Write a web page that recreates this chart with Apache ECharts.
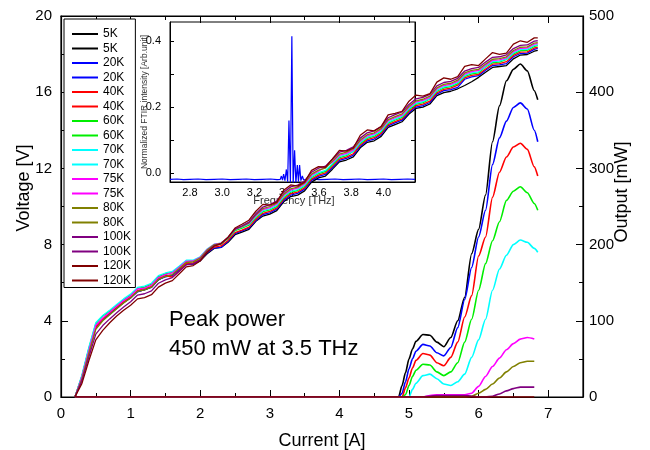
<!DOCTYPE html>
<html><head><meta charset="utf-8">
<script src="https://cdn.jsdelivr.net/npm/echarts@6/dist/echarts.min.js"></script>
<style>html,body{margin:0;padding:0;background:#fff}#c{width:650px;height:450px}</style>
</head><body><div id="c"></div>
<script>
// ---------- data ----------
const temps = ['5K','20K','40K','60K','70K','75K','80K','100K','120K'];
const colors = ['#000000','#0000ff','#ff0000','#00ee00','#00ffff','#ff00ff','#808000','#800080','#800000'];

const currentV = [0.2,0.3,0.4,0.5,0.6,0.7,0.8,0.9,1.0,1.1,1.2,1.3,1.4,1.5,1.6,1.7,1.8,1.9,2.0,2.1,2.2,2.3,2.4,2.5,2.6,2.7,2.8,2.9,3.0,3.1,3.2,3.3,3.4,3.5,3.6,3.7,3.8,3.9,4.0,4.1,4.2,4.3,4.4,4.5,4.6,4.7,4.8,4.9,5.0,5.1,5.2,5.3,5.4,5.5,5.6,5.7,5.8,5.9,6.0,6.1,6.2,6.3,6.4,6.5,6.6,6.7,6.8,6.85];

const V_5K = [0,1.05,2.5,3.75,4.1,4.4,4.68,4.98,5.22,5.55,5.62,5.78,6.15,6.36,6.40,6.70,6.98,6.98,7.15,7.52,7.80,7.85,8.12,8.52,8.66,8.80,9.22,9.50,9.60,9.78,10.25,10.52,10.60,10.82,11.28,11.50,11.60,11.96,12.34,12.44,12.60,13.08,13.37,13.45,13.68,14.15,14.30,14.45,14.85,15.15,15.22,15.38,15.82,15.98,16.05,16.18,16.35,16.55,16.78,17.05,17.30,17.35,17.40,17.75,17.95,17.98,18.15,18.20];
const V_20K = [0,0.95,2.35,3.65,4.05,4.35,4.65,4.95,5.2,5.52,5.63,5.75,6.17,6.31,6.39,6.68,6.97,6.99,7.16,7.57,7.82,7.85,8.17,8.58,8.72,8.87,9.27,9.58,9.67,9.86,10.32,10.60,10.69,10.91,11.37,11.58,11.69,12.05,12.42,12.52,12.70,13.16,13.44,13.54,13.77,14.23,14.39,14.53,14.93,15.22,15.30,15.46,15.90,16.08,16.14,16.25,16.68,16.81,16.87,17.15,17.40,17.43,17.50,17.86,18.03,18.05,18.25,18.30];
const V_40K = [0,0.9,2.3,3.65,4.1,4.42,4.72,5.0,5.27,5.58,5.7,5.8,6.24,6.36,6.30,6.62,7.02,7.04,7.21,7.61,7.87,7.93,8.22,8.63,8.76,8.92,9.33,9.64,9.74,9.93,10.39,10.67,10.76,10.98,11.44,11.65,11.76,12.12,12.49,12.59,12.77,13.23,13.51,13.61,13.84,14.30,14.46,14.60,15.00,15.29,15.37,15.53,15.97,16.15,16.21,16.37,16.75,16.88,16.94,17.22,17.47,17.50,17.60,17.93,18.10,18.12,18.32,18.35];
const V_60K = [0,1.1,2.55,3.85,4.25,4.52,4.8,5.1,5.35,5.7,5.77,5.92,6.32,6.46,6.54,6.83,7.12,7.14,7.31,7.72,7.97,8.03,8.32,8.73,8.86,9.02,9.42,9.73,9.82,10.01,10.47,10.75,10.84,11.06,11.52,11.73,11.84,12.2,12.57,12.67,12.90,13.31,13.59,13.69,13.92,14.38,14.54,14.68,15.08,15.37,15.45,15.65,16.05,16.23,16.29,16.45,16.83,16.96,17.02,17.33,17.55,17.58,17.72,18.01,18.18,18.20,18.40,18.45];
const V_70K = [0,1.15,2.6,3.9,4.28,4.55,4.85,5.15,5.4,5.75,5.82,5.97,6.37,6.51,6.59,6.88,7.18,7.19,7.36,7.77,8.02,8.08,8.37,8.78,8.92,9.07,9.47,9.78,9.87,10.06,10.52,10.80,10.89,11.11,11.57,11.78,11.89,12.25,12.62,12.72,12.90,13.36,13.64,13.74,13.97,14.43,14.59,14.73,15.13,15.42,15.50,15.66,16.10,16.28,16.34,16.50,16.88,17.01,17.07,17.35,17.60,17.63,17.73,18.06,18.23,18.25,18.45,18.50];
const V_75K = [0,1.05,2.45,3.75,4.15,4.45,4.76,5.06,5.3,5.67,5.72,5.87,6.27,6.42,6.51,6.81,7.12,7.14,7.33,7.74,8.01,8.08,8.37,8.80,8.94,9.11,9.52,9.84,9.94,10.13,10.59,10.87,10.96,11.18,11.64,11.85,12.10,12.32,12.69,12.79,12.97,13.43,13.71,13.81,14.04,14.50,14.66,14.80,15.20,15.49,15.57,15.73,16.17,16.35,16.41,16.57,16.95,17.08,17.14,17.42,17.67,17.70,17.80,18.13,18.30,18.32,18.52,18.55];
const V_80K = [0,0.95,2.3,3.55,4.0,4.32,4.63,4.94,5.2,5.55,5.62,5.77,6.17,6.33,6.43,6.74,7.06,7.09,7.29,7.71,7.99,8.07,8.37,8.81,8.96,9.14,9.56,9.89,10.00,10.19,10.65,10.93,11.02,11.24,11.70,11.91,12.02,12.38,12.75,12.85,13.03,13.49,13.77,13.87,14.10,14.56,14.72,14.86,15.26,15.55,15.63,15.79,16.23,16.41,16.47,16.63,17.01,17.14,17.20,17.48,17.73,17.76,17.86,18.19,18.36,18.38,18.58,18.60];
const V_100K = [0,0.85,2.1,3.3,3.75,4.1,4.42,4.72,5.0,5.35,5.42,5.57,5.97,6.15,6.27,6.60,6.93,6.99,7.20,7.64,7.94,8.04,8.36,8.81,8.99,9.18,9.62,9.97,10.10,10.29,10.75,11.03,11.12,11.34,11.80,12.01,12.12,12.48,12.85,12.95,13.13,13.59,13.87,13.97,14.20,14.66,14.82,14.96,15.36,15.65,15.73,15.89,16.33,16.51,16.57,16.73,17.11,17.24,17.30,17.58,17.83,17.86,17.96,18.29,18.46,18.48,18.68,18.70];
const V_120K = [0,0.7,1.9,3.0,3.5,3.9,4.25,4.55,4.82,5.15,5.22,5.37,5.77,5.98,6.11,6.47,6.83,6.90,7.14,7.60,7.92,8.05,8.39,8.87,9.07,9.28,9.75,10.11,10.07,10.23,10.85,11.13,11.07,11.28,11.90,12.09,12.06,12.50,12.95,12.91,13.07,13.74,14.02,13.97,14.19,14.81,14.89,15.00,15.53,15.85,15.79,15.92,16.53,16.75,16.68,16.82,17.36,17.45,17.40,17.75,18.08,17.99,18.05,18.52,18.70,18.62,18.85,18.85];

const currentP = [0.2,4.8,4.85,4.9,4.95,5.0,5.05,5.1,5.2,5.3,5.4,5.5,5.6,5.7,5.8,5.9,6.0,6.1,6.2,6.3,6.4,6.5,6.6,6.7,6.8,6.85];
const P_5K  = [0,0,0,15,32,50,63,73,82,81,72,66,78,100,131,188,220,265,335,382,415,430,437,428,402,390];
const P_20K = [0,0,0,5,20,37,50,60,69,67,58,54,65,91,128,170,210,245,305,340,362,380,386,378,350,335];
const P_40K = [0,0,0,0,12,25,38,48,57,55,45,41,52,72,105,133,185,210,262,295,315,328,333,325,302,290];
const P_60K = [0,0,0,0,3,15,27,35,43,42,33,28,33,45,72,102,140,175,205,230,258,270,276,268,254,245];
const P_70K = [0,0,0,0,0,0,10,18,28,30,24,17,15,20,30,52,75,102,140,168,186,200,206,203,195,190];
const P_75K = [0,0,0,0,0,0,0,0,0,2,3,3,3,3,3,5,14,27,40,51,62,70,76,78,76,null];
const P_80K = [0,0,0,0,0,0,0,0,0,0,0,0,0,0,0,1,5,10,17,25,33,40,45,47,47,null];
const P_100K= [0,0,0,0,0,0,0,0,0,1,2,2,2,2,2,1,0,0,1,4,8,11,13,13,13,null];
const P_120K= [0,0,0,0,0,0,0,0,0,0,0,0,0,0,0,0,0,0,0,0,0,0,0,0,0,null];

const freq = [2.676,2.72,2.76,2.80,2.85,2.90,2.95,3.00,3.05,3.10,3.15,3.20,3.25,3.30,3.34,3.36,3.367,3.374,3.381,3.389,3.398,3.406,3.414,3.423,3.432,3.440,3.449,3.457,3.466,3.473,3.480,3.488,3.497,3.505,3.52,3.56,3.60,3.65,3.70,3.75,3.80,3.85,3.90,3.95,4.00,4.05,4.10,4.15,4.196];
const ftir = [-0.018,-0.017,-0.019,-0.018,-0.017,-0.019,-0.018,-0.017,-0.019,-0.018,-0.017,-0.019,-0.018,-0.017,-0.019,-0.018,-0.008,-0.02,-0.002,-0.022,0.012,-0.025,0.16,-0.028,0.415,-0.03,0.07,-0.028,0.025,-0.025,0.025,-0.022,-0.008,-0.02,-0.018,-0.017,-0.019,-0.018,-0.017,-0.019,-0.018,-0.017,-0.019,-0.018,-0.017,-0.019,-0.018,-0.017,-0.018];

const insetFreqTicks = [2.8,3.0,3.2,3.4,3.6,3.8,4.0];
const insetIntLabels = [0,0.2,0.4];
const insetIntTicks = [0,0.1,0.2,0.3,0.4];

// ---------- chart ----------
const VS = [V_5K,V_20K,V_40K,V_60K,V_70K,V_75K,V_80K,V_100K,V_120K];
const PS = [P_5K,P_20K,P_40K,P_60K,P_70K,P_75K,P_80K,P_100K,P_120K];
const FF = "'Liberation Sans Narrow','Liberation Sans',Arial,sans-serif";
const FA = "'Liberation Sans',Arial,sans-serif";
const pair = (xs, ys) => xs.map((x,i)=> ys[i]==null ? null : [x, ys[i]]).filter(d=>d);

const series = [];
const legendData = [];
series.push({type:'line', name:'ftir', xAxisIndex:2, yAxisIndex:2, data: pair(freq, ftir),
  symbol:'none', lineStyle:{color:'#0000ff', width:1.2}, z:2});
temps.forEach((t,i)=>{
  legendData.push(t, t + ' ');
  series.push({type:'line', name:t + ' ', xAxisIndex:0, yAxisIndex:1, data: pair(currentP, PS[i]),
    symbol:'none', smooth:0.25, smoothMonotone:'x', color:colors[i], lineStyle:{color:colors[i], width:1.6}, z:3});
});
temps.forEach((t,i)=>{
  series.push({type:'line', name:t, xAxisIndex:0, yAxisIndex:0, data: pair(currentV, VS[i]),
    symbol:'none', color:colors[i], lineStyle:{color:colors[i], width:1.3}, z:4});
});

const axLine = {show:true, onZero:false, lineStyle:{color:'#000', width:1.2}};
const chart = echarts.init(document.getElementById('c'), null, {renderer:'canvas'});
chart.setOption({
  animation:false,
  backgroundColor:'#fff',
  grid:[
    {left:61, right:67, top:16, bottom:53, show:true, borderColor:'#000', borderWidth:1.2, backgroundColor:'transparent'},
    {left:170, right:235, top:22, bottom:268, show:true, borderColor:'#000', borderWidth:1, backgroundColor:'transparent'}
  ],
  legend:{data:legendData, orient:'vertical', left:64, top:19, icon:'rect', itemWidth:26, itemHeight:2, itemGap:2.5,
    padding:[9,1,1,8], borderColor:'#000', borderWidth:1, backgroundColor:'#fff', selectedMode:false,
    textStyle:{fontSize:12, fontFamily:FA, color:'#000'}, z:10},
  xAxis:[
    {type:'value', gridIndex:0, min:0, max:7.5, interval:1, position:'bottom', axisLine:axLine,
      axisTick:{show:true, inside:true, length:7, lineStyle:{color:'#000'}},
      minorTick:{show:true, splitNumber:2, length:4, lineStyle:{color:'#000'}},
      axisLabel:{margin:9, fontSize:15, color:'#000', fontFamily:FF, showMaxLabel:false}, splitLine:{show:false}},
    {type:'value', gridIndex:0, min:0, max:7.5, interval:1, position:'top', axisLine:axLine,
      axisTick:{show:true, inside:true, length:7, lineStyle:{color:'#000'}},
      minorTick:{show:true, splitNumber:2, length:4, lineStyle:{color:'#000'}},
      axisLabel:{show:false}, splitLine:{show:false}},
    {type:'value', gridIndex:1, min:2.676, max:4.196, position:'bottom', axisLine:{show:true,onZero:false,lineStyle:{color:'#000',width:1}},
      axisTick:{show:false},
      axisLabel:{customValues:insetFreqTicks, formatter:v=>v.toFixed(1), margin:5, fontSize:11, color:'#000', fontFamily:FA},
      splitLine:{show:false}}
  ],
  yAxis:[
    {type:'value', gridIndex:0, min:0, max:20, interval:4, position:'left', axisLine:axLine,
      axisTick:{show:true, inside:true, length:7, lineStyle:{color:'#000'}},
      minorTick:{show:true, splitNumber:2, length:4, lineStyle:{color:'#000'}},
      axisLabel:{margin:9, fontSize:15, color:'#000', fontFamily:FF}, splitLine:{show:false}},
    {type:'value', gridIndex:0, min:0, max:500, interval:100, position:'right', axisLine:axLine,
      axisTick:{show:true, inside:true, length:7, lineStyle:{color:'#000'}},
      minorTick:{show:true, splitNumber:2, length:4, lineStyle:{color:'#000'}},
      axisLabel:{margin:6, fontSize:15, color:'#000', fontFamily:FF}, splitLine:{show:false}},
    {type:'value', gridIndex:1, min:-0.026, max:0.458, position:'left', axisLine:{show:true,onZero:false,lineStyle:{color:'#000',width:1}},
      axisTick:{show:true, inside:true, length:4, customValues:insetIntTicks, lineStyle:{color:'#000'}},
      axisLabel:{customValues:insetIntLabels, formatter:v=>v.toFixed(1), margin:9, fontSize:11, color:'#000', fontFamily:FA},
      splitLine:{show:false}},
    {type:'value', gridIndex:1, min:-0.026, max:0.458, position:'right', axisLine:{show:true,onZero:false,lineStyle:{color:'#000',width:1}},
      axisTick:{show:true, inside:true, length:4, customValues:insetIntTicks, lineStyle:{color:'#000'}},
      axisLabel:{show:false}, splitLine:{show:false}}
  ],
  graphic:[
    {type:'text', x:24, y:188, rotation:Math.PI/2, style:{text:'Voltage [V]', font:"18px "+FA, fill:'#000', textAlign:'center', textVerticalAlign:'middle'}},
    {type:'text', x:622, y:192, rotation:Math.PI/2, style:{text:'Output [mW]', font:"18px "+FA, fill:'#000', textAlign:'center', textVerticalAlign:'middle'}},
    {type:'text', x:322, y:441, style:{text:'Current [A]', font:"18px "+FA, fill:'#000', textAlign:'center', textVerticalAlign:'middle'}},
    {type:'text', x:294, y:201, style:{text:'Frequency [THz]', font:"11px "+FA, fill:'#333', textAlign:'center', textVerticalAlign:'middle'}},
    {type:'text', x:145, y:102, rotation:Math.PI/2, style:{text:'Normalized FTIR intensity [Arb.unit]', font:"8.5px "+FA, fill:'#333', textAlign:'center', textVerticalAlign:'middle'}},
    {type:'text', x:169, y:320, style:{text:'Peak power', font:"22px "+FA, fill:'#000', textAlign:'left', textVerticalAlign:'middle'}},
    {type:'text', x:169, y:349, style:{text:'450 mW at 3.5 THz', font:"22px "+FA, fill:'#000', textAlign:'left', textVerticalAlign:'middle'}}
  ],
  series: series
});
</script></body></html>
